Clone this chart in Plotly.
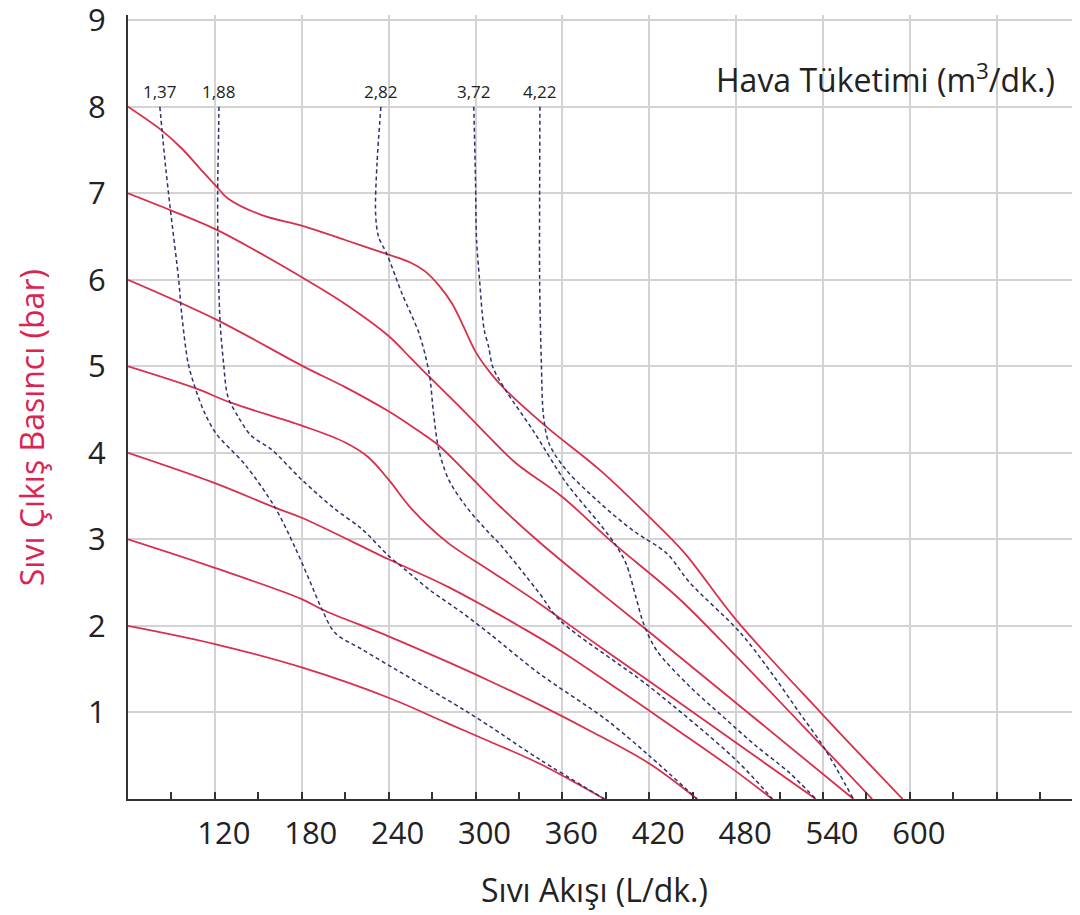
import plotly.graph_objects as go

# ---- Red pump curves: liquid outlet pressure (bar) vs liquid flow (L/dk.) ----
P8_X = [60, 83, 97, 110, 121, 129, 152, 181, 210, 240, 255, 265, 275, 284, 292, 300, 310, 320, 349, 386, 420, 444, 480, 540, 595]
P8_Y = [8, 7.73, 7.52, 7.28, 7.08, 6.94, 6.75, 6.62, 6.46, 6.29, 6.2, 6.1, 5.93, 5.72, 5.45, 5.17, 4.93, 4.74, 4.3, 3.8, 3.26, 2.85, 2.07, 0.97, 0]
P7_X = [60, 90, 121, 150, 181, 210, 240, 255, 268, 291, 309, 328, 360, 395, 439, 480, 540, 574]
P7_Y = [7, 6.8, 6.58, 6.32, 6.02, 5.72, 5.35, 5.1, 4.88, 4.5, 4.19, 3.88, 3.49, 2.96, 2.34, 1.65, 0.6, 0]
P6_X = [60, 121, 181, 210, 240, 260, 275, 295, 317, 344, 380, 420, 480, 561]
P6_Y = [6, 5.54, 5.0, 4.76, 4.48, 4.26, 4.08, 3.75, 3.38, 2.97, 2.47, 1.93, 1.11, 0]
P5_X = [60, 106, 131, 181, 210, 226, 240, 256, 281, 309, 344, 380, 420, 480, 535]
P5_Y = [5, 4.75, 4.58, 4.31, 4.12, 3.95, 3.69, 3.35, 2.96, 2.65, 2.26, 1.83, 1.36, 0.65, 0]
P4_X = [60, 120, 161, 180, 240, 280, 309, 330, 360, 400, 440, 475, 505]
P4_Y = [4, 3.65, 3.37, 3.25, 2.77, 2.46, 2.2, 2.0, 1.7, 1.25, 0.79, 0.38, 0]
P3_X = [60, 120, 180, 194, 240, 280, 309, 344, 380, 420, 453]
P3_Y = [3, 2.67, 2.31, 2.19, 1.88, 1.59, 1.37, 1.09, 0.78, 0.41, 0]
P2_X = [60, 120, 180, 240, 280, 309, 344, 389]
P2_Y = [2, 1.79, 1.52, 1.17, 0.88, 0.67, 0.41, 0]

# ---- Dashed air consumption curves (m3/dk.) ----
A137_X = [82, 83.5, 86, 89, 95, 97, 101.5, 106, 113, 121, 141, 161.5, 175, 185, 194, 203, 221.5, 244.6, 268, 291, 309, 344, 389]
A137_Y = [8, 7.73, 7.3, 6.85, 6.0, 5.62, 5.04, 4.77, 4.46, 4.22, 3.86, 3.37, 2.92, 2.54, 2.19, 1.92, 1.73, 1.5, 1.27, 1.04, 0.85, 0.46, 0]
A188_X = [122.8, 122.5, 122, 122, 123.5, 126, 129, 136, 145, 159, 180, 203, 221.5, 240, 251.5, 268, 291, 309, 344, 390, 420, 453]
A188_Y = [8, 7.6, 7.15, 6.58, 5.54, 5.04, 4.65, 4.42, 4.2, 4.04, 3.69, 3.35, 3.12, 2.81, 2.65, 2.42, 2.15, 1.92, 1.45, 0.92, 0.5, 0]
A282_X = [234.7, 232, 231, 233, 239, 249, 261, 268, 271, 274.6, 281.5, 293.5, 309, 316.6, 344, 358, 420, 480, 505]
A282_Y = [8, 7.35, 6.77, 6.5, 6.29, 5.85, 5.38, 4.92, 4.46, 4.04, 3.69, 3.38, 3.08, 2.95, 2.38, 2.07, 1.3, 0.45, 0]
A372_X = [298.8, 300, 300.5, 301, 302.8, 304.6, 306, 309, 312, 321, 339.7, 362.8, 385.8, 397, 404, 411, 416, 425, 448, 471, 494, 517, 535]
A372_Y = [8, 7.15, 6.57, 6.38, 6.0, 5.62, 5.42, 5.23, 4.99, 4.72, 4.26, 3.65, 3.18, 2.93, 2.72, 2.32, 2.03, 1.72, 1.3, 0.95, 0.61, 0.3, 0]
A422_X = [344.5, 344.3, 344.3, 345.5, 347, 351, 362.8, 386, 409, 432, 448, 483, 506, 524, 540.5, 561]
A422_Y = [8, 7.0, 6.0, 5.03, 4.42, 4.1, 3.8, 3.42, 3.1, 2.84, 2.5, 1.92, 1.42, 0.99, 0.6, 0]

AIR_LABELS = ["1,37", "1,88", "2,82", "3,72", "4,22"]

X_RANGE = [60, 717.5]
Y_RANGE = [0, 9.06]
X_TICKS = [120, 180, 240, 300, 360, 420, 480, 540, 600, 660]
X_TICK_TEXT = ["120", "180", "240", "300", "360", "420", "480", "540", "600", ""]
Y_TICKS = [1, 2, 3, 4, 5, 6, 7, 8, 9]
Y_TICK_TEXT = ["1", "2", "3", "4", "5", "6", "7", "8", "9"]
Y_TOP = 9

X_TITLE = "Sıvı Akışı (L/dk.)"
Y_TITLE = "Sıvı Çıkış Basıncı (bar)"
AIR_TITLE = "Hava Tüketimi (m<sup>3</sup>/dk.)"

RED = "#d8304c"
NAVY = "#2d3170"
GRID = "#d3d3d3"
FONT = "Open Sans"

fig = go.Figure()

# top grid line drawn as a trace along the top tick value
fig.add_trace(go.Scatter(x=X_RANGE, y=[Y_TOP, Y_TOP], mode="lines",
                         line=dict(color=GRID, width=1.5), hoverinfo="skip",
                         showlegend=False, cliponaxis=False))

pressure = [(P8_X, P8_Y), (P7_X, P7_Y), (P6_X, P6_Y), (P5_X, P5_Y),
            (P4_X, P4_Y), (P3_X, P3_Y), (P2_X, P2_Y)]
for xs, ys in pressure:
    fig.add_trace(go.Scatter(x=xs, y=ys, mode="lines",
                             line=dict(color=RED, width=1.8, shape="spline", smoothing=1.0),
                             hoverinfo="skip", showlegend=False))

air = [(A137_X, A137_Y), (A188_X, A188_Y), (A282_X, A282_Y), (A372_X, A372_Y), (A422_X, A422_Y)]
for (xs, ys), lab in zip(air, AIR_LABELS):
    fig.add_trace(go.Scatter(x=xs, y=ys, mode="lines",
                             line=dict(color=NAVY, width=1.5, dash="4px,3px", shape="spline", smoothing=0.9),
                             hoverinfo="skip", showlegend=False))
    fig.add_annotation(x=xs[0], y=ys[0], text=lab, showarrow=False,
                       xanchor="center", yanchor="bottom", yshift=2,
                       font=dict(family=FONT, size=17, color="#222"))

fig.add_annotation(xref="paper", yref="paper", x=0.976, y=0.92, text=AIR_TITLE,
                   showarrow=False, xanchor="right", yanchor="middle",
                   font=dict(family=FONT, size=32, color="#222"))
fig.add_annotation(xref="paper", yref="paper", x=0.4895, y=-0.115, text=X_TITLE,
                   showarrow=False, xanchor="center", yanchor="middle",
                   font=dict(family=FONT, size=32, color="#222"))
fig.add_annotation(xref="paper", yref="paper", x=-0.101, y=0.474, text=Y_TITLE,
                   showarrow=False, textangle=-90, xanchor="center", yanchor="middle",
                   font=dict(family=FONT, size=32, color="#dc2453"))

fig.update_xaxes(range=X_RANGE, showgrid=True, gridcolor=GRID, gridwidth=1.5,
                 tickmode="array", tickvals=X_TICKS, ticktext=X_TICK_TEXT,
                 ticks="inside", ticklen=7, tickwidth=1.5, tickcolor="#333",
                 showline=True, linecolor="#333", linewidth=2, zeroline=False,
                 minor=dict(dtick=30, tick0=60, ticks="inside", ticklen=7, tickwidth=1.5,
                            tickcolor="#333", showgrid=False),
                 tickfont=dict(family=FONT, size=31, color="#222"),
                 ticklabelshift=9, ticklabelstandoff=6, automargin=False)
fig.update_yaxes(range=Y_RANGE, showgrid=True, gridcolor=GRID, gridwidth=1.5,
                 tickmode="array", tickvals=Y_TICKS, ticktext=Y_TICK_TEXT,
                 ticks="", showline=True, linecolor="#333", linewidth=2, zeroline=False,
                 tickfont=dict(family=FONT, size=31, color="#222"),
                 ticklabelstandoff=14, ticklabeloverflow="allow", automargin=False)

# the page body adds an 8px offset, so margins are reduced by 8px on the left/top
fig.update_layout(width=1080, height=915, margin=dict(l=120, r=8, t=7, b=124),
                  paper_bgcolor="white", plot_bgcolor="white",
                  font=dict(family=FONT), showlegend=False)

fig.write_html("out.html")
